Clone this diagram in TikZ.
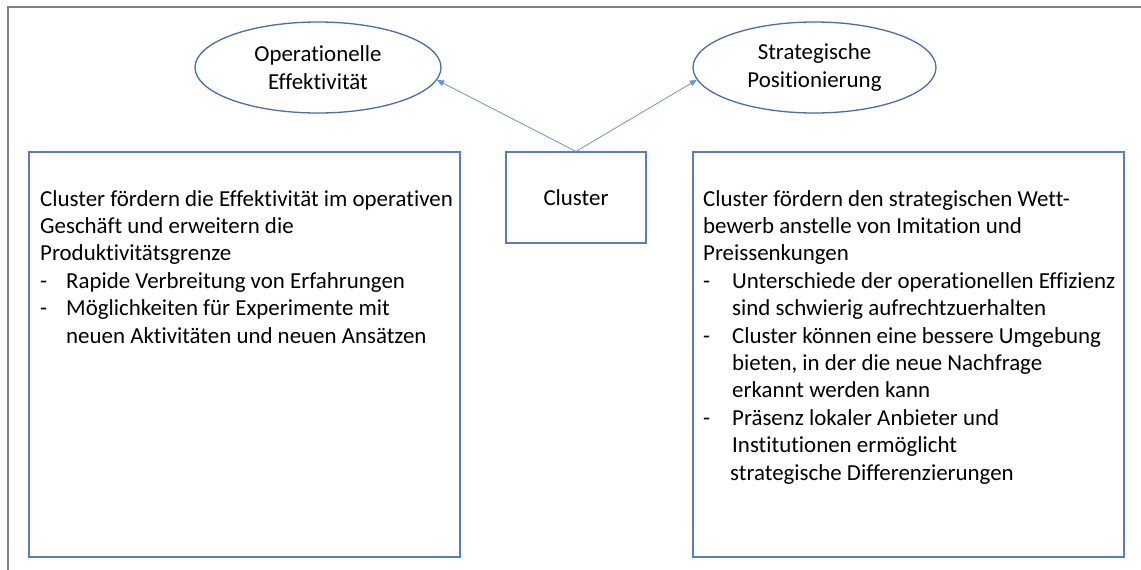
\documentclass[tikz,border=0pt]{standalone}
\usepackage{fontspec}
\setmainfont[Ligatures={NoCommon}]{Carlito}
\usetikzlibrary{shapes.geometric,arrows.meta}
\definecolor{frame}{RGB}{128,128,128}
\definecolor{boxblue}{RGB}{90,125,192}
\definecolor{ellblue}{RGB}{72,108,172}
\definecolor{arrblue}{RGB}{110,145,212}
\tikzset{
  textbox/.style={draw=boxblue,line width=1.1pt,inner sep=0pt},
  oval/.style={ellipse,draw=ellblue,line width=1.3pt,inner sep=0pt,align=center,font=\fontsize{22.9}{28.5}\selectfont},
  conn/.style={draw=arrblue,line width=0.8pt,-{Triangle[length=7pt,width=6pt]}},
  body/.style={inner sep=0pt,anchor=base west,font=\fontsize{22.9}{27.4}\selectfont}
}
\newcommand{\bl}[1]{\hbox{\makebox[26pt][l]{-}#1}}
\newcommand{\br}[1]{\hbox{\makebox[29pt][l]{-}#1}}
\begin{document}
\begin{tikzpicture}[x=1pt,y=-1pt]
\useasboundingbox (0,0) rectangle (1141,570);
% outer frame
\draw[frame,line width=1.2pt] (8,570) -- (8,7) -- (1141,7);
% boxes
\node[textbox,minimum width=431pt,minimum height=405pt] (lb) at (244.5,354.5) {};
\node[textbox,minimum width=431pt,minimum height=405pt] (rb) at (908.5,354.5) {};
\node[textbox,minimum width=140pt,minimum height=91pt,font=\fontsize{22.9}{27}\selectfont] (cl) at (576,197.5) {Cluster};
% ellipses
\node[oval,minimum width=246pt,minimum height=91pt] (le) at (318,67.5) {Operationelle\\Effektivität};
\node[oval,minimum width=243pt,minimum height=91pt] (re) at (814.5,67.5) {Strategische\\Positionierung};
% arrows
\draw[conn] (cl.north) -- (le.-6);
\draw[conn] (cl.north) -- (re.186);
% texts
\node[body] (lt) at (40,206) {\vtop{\baselineskip=27.4pt
\hbox{Cluster fördern die Effektivität im operativen}
\hbox{Geschäft und erweitern die}
\hbox{Produktivitätsgrenze}
\bl{Rapide Verbreitung von Erfahrungen}
\bl{Möglichkeiten für Experimente mit}
\hbox{\hspace{26pt}neuen Aktivitäten und neuen Ansätzen}}};
\node[body] (rt) at (703,206) {\vtop{\baselineskip=27.4pt
\hbox{Cluster fördern den strategischen Wett-}
\hbox{bewerb anstelle von Imitation und}
\hbox{Preissenkungen}
\br{Unterschiede der operationellen Effizienz}
\hbox{\hspace{29pt}sind schwierig aufrechtzuerhalten}
\br{Cluster können eine bessere Umgebung}
\hbox{\hspace{29pt}bieten, in der die neue Nachfrage}
\hbox{\hspace{29pt}erkannt werden kann}
\br{Präsenz lokaler Anbieter und}
\hbox{\hspace{29pt}Institutionen ermöglicht}
\hbox{\hspace{27pt}strategische Differenzierungen}}};
\end{tikzpicture}
\end{document}
